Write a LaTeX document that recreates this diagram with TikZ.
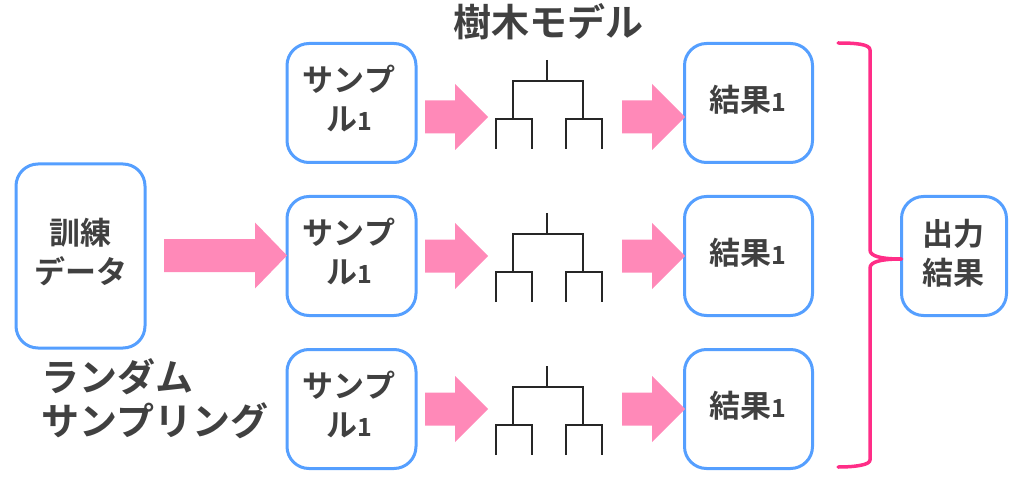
\documentclass[tikz,border=0pt]{standalone}
\usepackage{fontspec}
\setmainfont{Noto Sans CJK JP}[BoldFont={Noto Sans CJK JP Bold}]
\usetikzlibrary{calc}
\definecolor{boxblue}{HTML}{559FFF}
\definecolor{txtgray}{HTML}{404040}
\definecolor{pinkarr}{HTML}{FF89B8}
\definecolor{bracepink}{HTML}{FF2D87}
\tikzset{
  x=1pt,y=-1pt,
  roundbox/.style={draw=boxblue,line width=3pt,rounded corners=22pt,fill=white,inner sep=0pt,outer sep=0pt,anchor=north west},
  lbl/.style={text=txtgray,align=center,inner sep=0pt,font=\fontsize{31}{39}\selectfont\bfseries},
  biglbl/.style={text=txtgray,align=left,inner sep=0pt,font=\fontsize{38}{44}\selectfont\bfseries},
  treeline/.style={draw=black!85,line width=2pt,line cap=butt},
  pinkshape/.style={fill=pinkarr,draw=none},
  bracestroke/.style={draw=bracepink,line width=3.5pt,line cap=round,line join=round}
}
\newcommand{\onefig}{{\fontsize{25}{39}\selectfont 1}}
\newcommand{\pinkarrow}[5]{% tail x, head base x, tip x, centre y, half-width tail
  \fill[pinkshape] (#1,#4-#5) -- (#2,#4-#5) -- (#2,#4-33) -- (#3,#4) -- (#2,#4+33) -- (#2,#4+#5) -- (#1,#4+#5) -- cycle;}
\newcommand{\treediagram}[1]{%
  \begin{scope}[shift={(0,#1)}]
    \draw[treeline] (547,60) -- (547,81);
    \draw[treeline] (513,119) -- (513,81) -- (583,81) -- (583,119);
    \draw[treeline] (496,149) -- (496,119) -- (532,119) -- (532,149);
    \draw[treeline] (566,149) -- (566,119) -- (602,119) -- (602,149);
  \end{scope}}
\begin{document}
\begin{tikzpicture}
\useasboundingbox (0,0) rectangle (1024,478);
% boxes
\node[roundbox,minimum width=129pt,minimum height=184pt] (train) at (16,164) {};
\node[roundbox,minimum width=129pt,minimum height=119pt] (s1) at (287,43.5) {};
\node[roundbox,minimum width=129pt,minimum height=119pt] (s2) at (287,196.5) {};
\node[roundbox,minimum width=129pt,minimum height=119pt] (s3) at (287,349.5) {};
\node[roundbox,minimum width=128pt,minimum height=119pt] (r1) at (684.5,43.5) {};
\node[roundbox,minimum width=128pt,minimum height=119pt] (r2) at (684.5,196.5) {};
\node[roundbox,minimum width=128pt,minimum height=119pt] (r3) at (684.5,349.5) {};
\node[roundbox,minimum width=105pt,minimum height=119pt] (out) at (901.5,196.5) {};
% labels
\node[lbl] (ltrain) at (80.5,252) {訓練\\データ};
\node[lbl] (ls1) at (349,99) {サンプ\\ル\onefig};
\node[lbl] (ls2) at (349,252) {サンプ\\ル\onefig};
\node[lbl] (ls3) at (349,405) {サンプ\\ル\onefig};
\node[lbl] (lr1) at (748,100) {結果\onefig};
\node[lbl] (lr2) at (748,253) {結果\onefig};
\node[lbl] (lr3) at (748,406) {結果\onefig};
\node[lbl] (lout) at (953,253) {出力\\結果};
\node[biglbl] (title) at (548,22) {樹木モデル};
\node[biglbl,anchor=west] (rs) at (41,399) {ランダム\\サンプリング};
% arrows
\pinkarrow{164}{255}{287}{255.5}{16.5}
\foreach \dy in {117,256,409}{
  \pinkarrow{425}{455}{488}{\dy}{16.5}
  \pinkarrow{622}{652}{685}{\dy}{16.5}
}
% trees
\treediagram{0}
\treediagram{153}
\treediagram{306}
% brace
\coordinate (btop) at (838,43);
\coordinate (bbot) at (838,467);
\coordinate (btip) at (out.west |- 0,259);
\draw[bracestroke] (btop) .. controls (855,43) and (870,44) .. (870,50) -- (870,250)
  .. controls (870,256) and (880,259) .. (btip)
  .. controls (880,259) and (870,262) .. (870,268) -- (870,460)
  .. controls (870,465) and (855,467) .. (bbot);
\end{tikzpicture}
\end{document}
